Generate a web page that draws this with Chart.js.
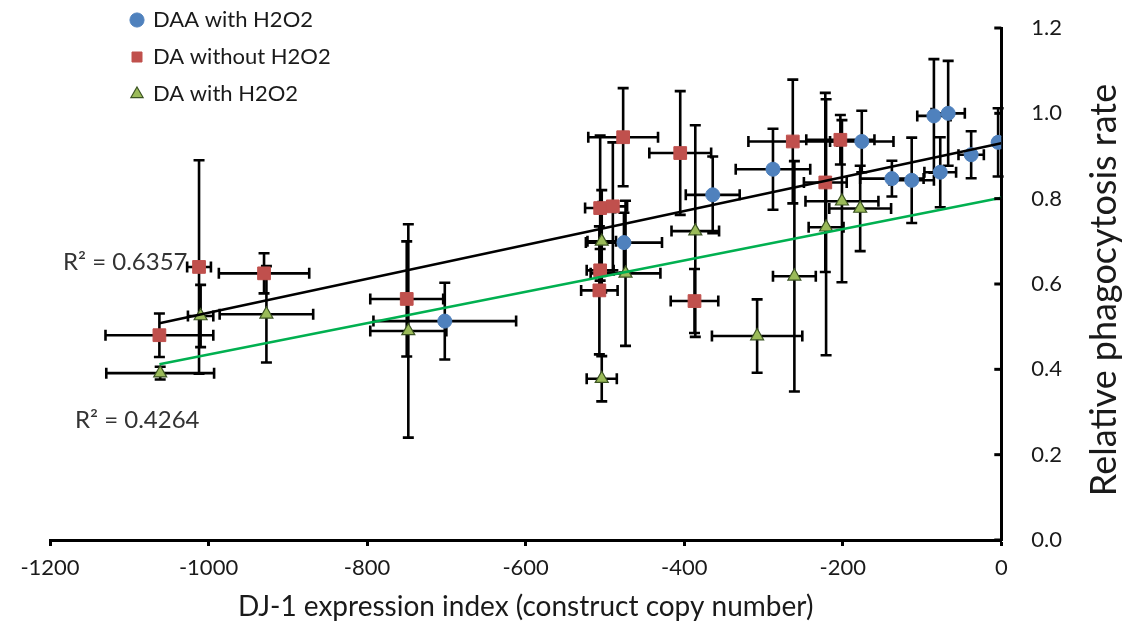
<!DOCTYPE html>
<html>
<head>
<meta charset="utf-8">
<script src="https://cdn.jsdelivr.net/npm/chart.js@4.4.1/dist/chart.umd.min.js"></script>
<style>
  html, body { margin: 0; padding: 0; background: #ffffff; }
  canvas { display: block; }
</style>
</head>
<body>
<canvas id="chart" width="1122" height="637"></canvas>
<script>
// DAA with H2O2
const daaX    = [-702, -476, -364, -288, -176, -138, -113, -85, -67, -77, -38, -4];
const daaY    = [0.513, 0.697, 0.809, 0.869, 0.934, 0.847, 0.843, 0.994, 1.000, 0.862, 0.903, 0.932];
const daaXErr = [90, 48, 34, 47, 40, 40, 28, 21, 21, 20, 16, 4];
const daaYErr = [0.090, 0.070, 0.090, 0.095, 0.072, 0.042, 0.100, 0.133, 0.123, 0.082, 0.055, 0.080];

// DA without H2O2
const daX    = [-1062, -1012, -930, -750, -477, -405, -506, -490, -506, -507, -387, -263, -203, -222];
const daY    = [0.480, 0.640, 0.625, 0.565, 0.944, 0.907, 0.778, 0.782, 0.632, 0.585, 0.560, 0.934, 0.938, 0.838];
const daXErr = [68, 15, 57, 46, 44, 39, 19, 18, 17, 23, 30, 56, 43, 27];
const daYErr = [0.051, 0.250, 0.047, 0.135, 0.115, 0.145, 0.170, 0.150, 0.050, 0.150, 0.075, 0.145, 0.058, 0.210];

// DA with H2O2
const dahX    = [-1061, -1010, -927, -748, -504, -474, -504, -386, -308, -261, -221, -201, -178];
const dahY    = [0.391, 0.525, 0.529, 0.490, 0.700, 0.625, 0.378, 0.724, 0.478, 0.618, 0.733, 0.794, 0.777];
const dahXErr = [68, 16, 59, 48, 18, 44, 19, 30, 57, 27, 22, 46, 39];
const dahYErr = [0.015, 0.073, 0.113, 0.250, 0.120, 0.170, 0.053, 0.248, 0.086, 0.270, 0.300, 0.190, 0.100];

// Linear trendlines (end points) and their R² labels
const trendX      = [-1062, 0];
const blackTrendY = [0.508, 0.930];
const greenTrendY = [0.412, 0.802];
const r2Labels    = ['R\u00B2 = 0.6357', 'R\u00B2 = 0.4264'];

// Axes
const xTicks = [-1200, -1000, -800, -600, -400, -200, 0];
const yTicks = [0, 0.2, 0.4, 0.6, 0.8, 1.0, 1.2];

const FONT = 'Lato, "Open Sans", sans-serif';
const toPoints = (xs, ys, ex, ey) => xs.map((x, i) => ({ x: x, y: ys[i], ex: ex[i], ey: ey[i] }));

// Error bars for every scatter series, drawn beneath the markers
const errorBars = {
  id: 'errorBars',
  beforeDatasetsDraw(chart) {
    const { ctx, scales: { x, y } } = chart;
    const cap = 5.5;
    ctx.save();
    ctx.strokeStyle = '#000000';
    ctx.lineWidth = 2.6;
    ctx.lineCap = 'butt';
    chart.data.datasets.forEach((ds) => {
      if (!ds.errorBars) return;
      ds.data.forEach((p) => {
        const px = x.getPixelForValue(p.x);
        const py = y.getPixelForValue(p.y);
        const x0 = x.getPixelForValue(p.x - p.ex);
        const x1 = x.getPixelForValue(p.x + p.ex);
        const y0 = y.getPixelForValue(p.y - p.ey);
        const y1 = y.getPixelForValue(p.y + p.ey);
        ctx.beginPath();
        ctx.moveTo(x0, py); ctx.lineTo(x1, py);
        ctx.moveTo(x0, py - cap); ctx.lineTo(x0, py + cap);
        ctx.moveTo(x1, py - cap); ctx.lineTo(x1, py + cap);
        ctx.moveTo(px, y0); ctx.lineTo(px, y1);
        ctx.moveTo(px - cap, y0); ctx.lineTo(px + cap, y0);
        ctx.moveTo(px - cap, y1); ctx.lineTo(px + cap, y1);
        ctx.stroke();
      });
    });
    ctx.restore();
  }
};

// Inward tick marks on the right-hand value axis
const yTickMarks = {
  id: 'yTickMarks',
  afterDraw(chart) {
    const { ctx, scales: { y } } = chart;
    const right = chart.chartArea.right;
    ctx.save();
    ctx.strokeStyle = '#000000';
    ctx.lineWidth = 3;
    y.ticks.forEach((t) => {
      const py = y.getPixelForValue(t.value);
      ctx.beginPath();
      ctx.moveTo(right - 7, py);
      ctx.lineTo(right, py);
      ctx.stroke();
    });
    ctx.restore();
  }
};

// Value-axis title (reads bottom to top) and trendline R² labels
const annotations = {
  id: 'annotations',
  afterDraw(chart) {
    const { ctx } = chart;
    ctx.save();
    ctx.fillStyle = '#1a1a1a';
    ctx.font = '36px ' + FONT;
    ctx.textAlign = 'center';
    ctx.textBaseline = 'middle';
    ctx.translate(1104, 290);
    ctx.rotate(-Math.PI / 2);
    ctx.fillText('Relative phagocytosis rate', 0, 0);
    ctx.restore();

    ctx.save();
    ctx.fillStyle = '#333333';
    ctx.font = '24px ' + FONT;
    ctx.textAlign = 'left';
    ctx.textBaseline = 'middle';
    ctx.fillText(r2Labels[0], 63, 262);
    ctx.fillText(r2Labels[1], 75, 420);
    ctx.restore();
  }
};

// Place the legend inside the plot, near its top-left corner
const legendPlacement = {
  id: 'legendPlacement',
  afterLayout(chart) {
    const lg = chart.legend;
    if (!lg) return;
    lg.left = 117;
    lg.top = -6;
    lg.bottom = lg.top + 220;
    lg.right = lg.left + 300;
  }
};

new Chart(document.getElementById('chart'), {
  type: 'scatter',
  data: {
    datasets: [
      {
        label: 'DAA with H2O2',
        data: toPoints(daaX, daaY, daaXErr, daaYErr),
        errorBars: true,
        pointStyle: 'circle',
        pointRadius: 7,
        backgroundColor: '#4F81BD',
        borderColor: '#4F81BD',
        borderWidth: 1,
        order: 3
      },
      {
        label: 'DA without H2O2',
        data: toPoints(daX, daY, daXErr, daYErr),
        errorBars: true,
        pointStyle: 'rect',
        pointRadius: 9,
        backgroundColor: '#C0504D',
        borderColor: '#C0504D',
        borderWidth: 1,
        order: 2
      },
      {
        label: 'DA with H2O2',
        data: toPoints(dahX, dahY, dahXErr, dahYErr),
        errorBars: true,
        pointStyle: 'triangle',
        pointRadius: 7.5,
        backgroundColor: '#9BBB59',
        borderColor: '#3B5323',
        borderWidth: 1.2,
        order: 1
      },
      {
        label: 'trend-black',
        type: 'line',
        data: trendX.map((x, i) => ({ x: x, y: blackTrendY[i] })),
        borderColor: '#000000',
        borderWidth: 2.5,
        pointRadius: 0,
        fill: false,
        order: 0
      },
      {
        label: 'trend-green',
        type: 'line',
        data: trendX.map((x, i) => ({ x: x, y: greenTrendY[i] })),
        borderColor: '#00B050',
        borderWidth: 2.5,
        pointRadius: 0,
        fill: false,
        order: 0
      }
    ]
  },
  options: {
    responsive: false,
    animation: false,
    devicePixelRatio: 1,
    layout: { padding: { left: 50, top: 28, right: 52, bottom: 9 } },
    plugins: {
      legend: {
        position: 'chartArea',
        align: 'start',
        labels: {
          usePointStyle: true,
          boxWidth: 10,
          boxHeight: 10,
          padding: 15,
          color: '#1a1a1a',
          font: { family: FONT, size: 22 },
          filter: (item) => item.datasetIndex < 3,
          sort: (a, b) => a.datasetIndex - b.datasetIndex
        }
      },
      tooltip: { enabled: false }
    },
    scales: {
      x: {
        type: 'linear',
        position: 'bottom',
        min: xTicks[0],
        max: xTicks[xTicks.length - 1],
        afterBuildTicks: (axis) => { axis.ticks = xTicks.map((v) => ({ value: v })); },
        ticks: {
          color: '#1a1a1a',
          font: { family: FONT, size: 22 },
          padding: 9,
          maxRotation: 0,
          callback: (v) => String(v)
        },
        grid: {
          display: true,
          drawOnChartArea: false,
          drawTicks: true,
          tickLength: 6,
          tickWidth: 3,
          tickColor: '#000000'
        },
        border: { display: true, color: '#000000', width: 3 },
        title: {
          display: true,
          text: 'DJ-1 expression index (construct copy number)',
          color: '#1a1a1a',
          font: { family: FONT, size: 28 },
          padding: { top: 0, bottom: 4 }
        }
      },
      y: {
        type: 'linear',
        position: 'right',
        min: yTicks[0],
        max: yTicks[yTicks.length - 1],
        afterBuildTicks: (axis) => { axis.ticks = yTicks.map((v) => ({ value: v })); },
        ticks: {
          color: '#1a1a1a',
          font: { family: FONT, size: 22 },
          padding: 8,
          callback: (v) => Number(v).toFixed(1)
        },
        // spacer between the axis line and its labels; the visible marks are drawn inward
        grid: {
          display: true,
          drawOnChartArea: false,
          drawTicks: true,
          tickLength: 22,
          tickColor: 'rgba(0,0,0,0)'
        },
        border: { display: true, color: '#000000', width: 3 }
      }
    }
  },
  plugins: [errorBars, yTickMarks, annotations, legendPlacement]
});
</script>
</body>
</html>
